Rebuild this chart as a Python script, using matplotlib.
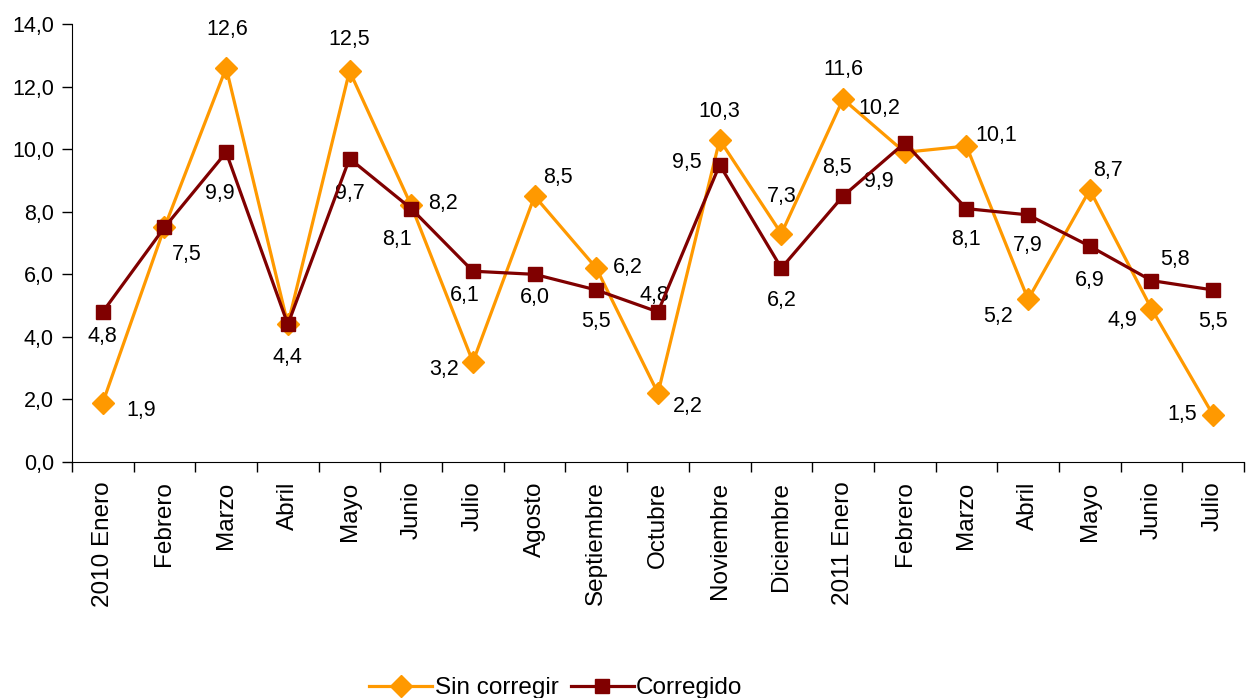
import matplotlib.pyplot as plt
import numpy as np

plt.rcParams['font.family'] = ['Liberation Sans', 'DejaVu Sans']

# meses
meses = ['2010 Enero', 'Febrero', 'Marzo', 'Abril', 'Mayo', 'Junio', 'Julio',
         'Agosto', 'Septiembre', 'Octubre', 'Noviembre', 'Diciembre',
         '2011 Enero', 'Febrero', 'Marzo', 'Abril', 'Mayo', 'Junio', 'Julio']

sin_corregir = [1.9, 7.5, 12.6, 4.4, 12.5, 8.2, 3.2, 8.5, 6.2, 2.2, 10.3, 7.3,
                11.6, 9.9, 10.1, 5.2, 8.7, 4.9, 1.5]
corregido = [4.8, 7.5, 9.9, 4.4, 9.7, 8.1, 6.1, 6.0, 5.5, 4.8, 9.5, 6.2,
             8.5, 10.2, 8.1, 7.9, 6.9, 5.8, 5.5]

# desplazamiento de las etiquetas en pixeles (dx, dy); None = sin etiqueta
off_sin = [(38, -8), (22, -27), (1, 38), (0, -33), (0, 31), (32, 2), (-29, -8),
           (23, 19), (32, 1), (30, -13), (0, 28), (0, 37), (0, 30), (-26, -29),
           (30, 11), (-30, -17), (18, 19), (-29, -12), (-31, 1)]
off_cor = [(0, -25), None, (-6, -41), None, (0, -35), (-14, -31), (-8, -24),
           (0, -23), (0, -32), (-4, 16), (-33, 2), (0, -32), (-6, 29), (-25, 34),
           (0, -31), (0, -31), (0, -34), (24, 21), (0, -32)]

naranja = '#FF9900'
granate = '#800000'

fig = plt.figure(figsize=(12.49, 6.98), dpi=100)
ax = fig.add_axes([0.0576, 0.338, 0.9384, 0.6276])

x = np.arange(len(meses))
ax.plot(x, sin_corregir, color=naranja, lw=2.3, marker='D', ms=11,
        label='Sin corregir', zorder=3)
ax.plot(x, corregido, color=granate, lw=2.3, marker='s', ms=10,
        label='Corregido', zorder=4)

def fmt(v):
    return ('%.1f' % v).replace('.', ',')

for xi, v, o in zip(x, sin_corregir, off_sin):
    if o is not None:
        ax.annotate(fmt(v), (xi, v), xytext=o, textcoords='offset pixels',
                    ha='center', va='center', fontsize=15.5)
for xi, v, o in zip(x, corregido, off_cor):
    if o is not None:
        ax.annotate(fmt(v), (xi, v), xytext=o, textcoords='offset pixels',
                    ha='center', va='center', fontsize=15.5)

ax.set_xlim(-0.5, len(meses) - 0.5)
ax.set_ylim(0, 14)
ax.set_yticks(np.arange(0, 14.1, 2))
ax.set_yticklabels([fmt(v) for v in np.arange(0, 14.1, 2)], fontsize=15.5)
ax.set_xticks(x)
ax.set_xticklabels(meses, rotation=90, fontsize=17.5)
ax.set_xticks(np.arange(-0.5, len(meses), 1), minor=True)
ax.tick_params(axis='x', which='major', length=0, pad=14)
ax.tick_params(axis='x', which='minor', length=7, width=1)
ax.tick_params(axis='y', length=7, width=1, pad=6)

for s in ['top', 'right']:
    ax.spines[s].set_visible(False)

fig.legend(loc='lower center', bbox_to_anchor=(0.445, -0.033), ncol=2,
           frameon=False, fontsize=17.5, handlelength=2.6, handletextpad=0.1,
           columnspacing=0.5)

plt.savefig('out.png', dpi=100)
